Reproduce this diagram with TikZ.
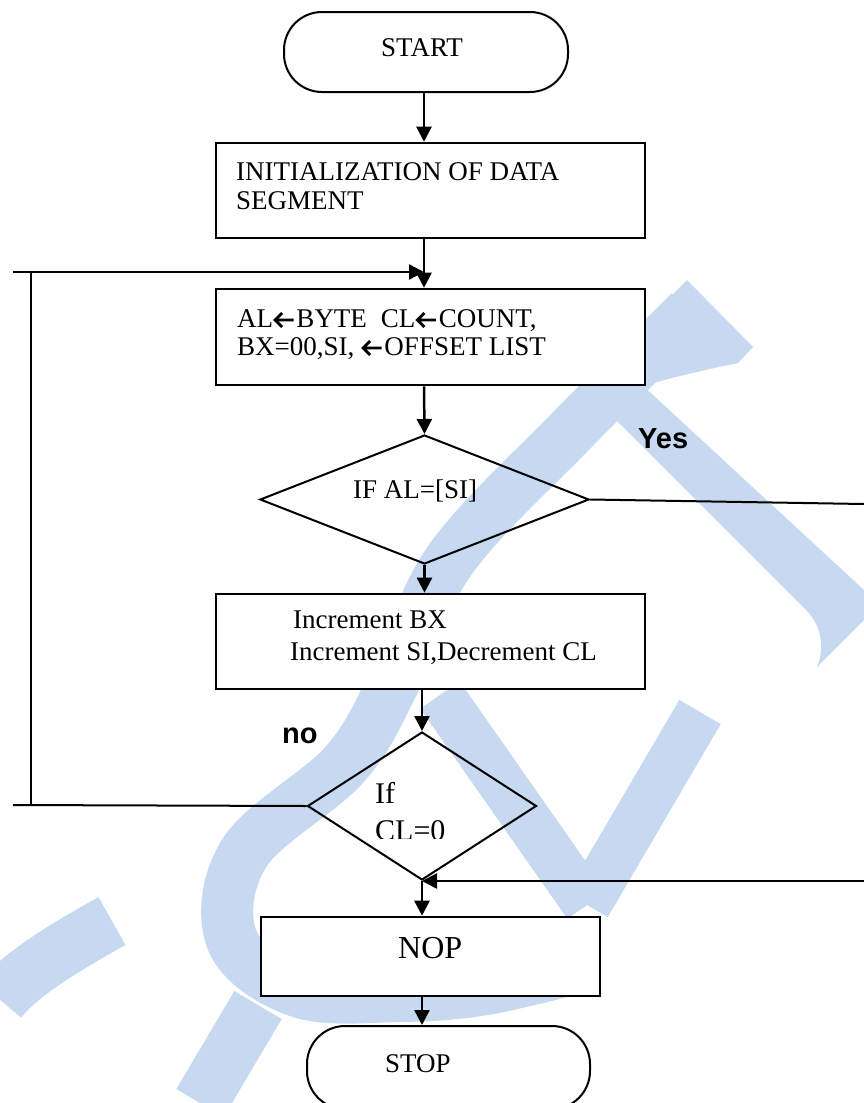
\documentclass[tikz,border=0pt]{standalone}
\usepackage{fontspec}
\setmainfont{Liberation Serif}
\newfontfamily\labelfont{Liberation Sans}
\usetikzlibrary{arrows.meta,shapes.geometric}
\definecolor{wmark}{RGB}{198,217,240}
% bold left arrow used in the register assignments
\newcommand{\leftarr}{\kern0.5pt\tikz[baseline=0pt,x=1pt,y=1pt,line width=2.8pt,line cap=butt]
  \draw (21,7)--(2.5,7) (9.5,0)--(2.5,7)--(9.5,14);\kern1.5pt}
\begin{document}
\begin{tikzpicture}[x=1pt,y=-1pt,
  flowline/.style={line width=2pt},
  flowarrow/.style={line width=2.5pt,-{Triangle[width=15pt,length=15pt]}},
  procbox/.style={draw,fill=white,line width=2.6pt,rectangle,inner sep=0pt},
  terminal/.style={draw,fill=white,line width=2pt,rectangle,rounded corners=38pt,inner sep=0pt},
  decision/.style={draw,line width=2pt,diamond,inner sep=0pt},
  txt/.style={anchor=base west,inner sep=0pt,font=\fontsize{27}{27}\selectfont},
  answer/.style={anchor=base west,inner sep=0pt,font=\labelfont\bfseries\fontsize{29}{29}\selectfont},
  band/.style={draw=wmark,line width=50pt,line cap=butt,line join=round}
]
\useasboundingbox (0,0) rectangle (864,1103);

% background watermark strokes
\fill[wmark] (687,280) -- (753,347) -- (738,363)
  .. controls (680,375) and (620,390) .. (600,403) -- (507,460) -- cycle;
\draw[band,line width=52pt] plot[smooth,tension=0.6] coordinates
  {(690,312) (572,430) (450,560) (395,680) (345,764) (245,852) (232,940)
   (300,992) (400,996) (480,990) (560,972)};
\fill[wmark] (640,383) -- (864,590) -- (864,620) -- (817,667)
  .. controls (826,645) and (820,622) .. (803,607) -- (598,402) -- cycle;
\draw[band,line width=48pt] (440,695) -- (587,905);
\draw[band,line width=48pt] (700,712) -- (587,905);
\draw[band,line width=55pt] (112,921) .. controls (60,950) and (20,975) .. (0,1000);
\draw[band,line width=55pt] (258,1005) -- (200,1103);

% shapes
\node[terminal,minimum width=284pt,minimum height=80pt] (start) at (426,52) {};
\node[procbox,minimum width=429pt,minimum height=95pt] (init) at (430.5,190.5) {};
\node[procbox,minimum width=429pt,minimum height=96pt] (calc) at (430.5,337) {};
\node[decision,minimum width=329pt,minimum height=129pt] (d1) at (424.5,499.5) {};
\node[procbox,minimum width=429pt,minimum height=95pt] (inc) at (430.5,641.5) {};
\node[decision,minimum width=229pt,minimum height=148pt] (d2) at (422,806) {};
\node[procbox,minimum width=339pt,minimum height=79pt] (nop) at (430.5,956.5) {};
\node[terminal,minimum width=283pt,minimum height=83pt] (stop) at (448.5,1067.5) {};

% texts
\node[txt] (tstart) at (381,56) {START};
\node[txt] (tinit1) at (236,180) {INITIALIZATION OF DATA};
\node[txt] (tinit2) at (236,209) {SEGMENT};
\node[txt] (tcalc1) at (237,327) {AL\leftarr BYTE\hspace{14pt}CL\leftarr COUNT,};
\node[txt] (tcalc2) at (237,355) {BX=00,SI, \leftarr OFFSET LIST};
\node[txt] (td1) at (353,498) {IF AL=[SI]};
\node[txt] (tinc1) at (293,628) {Increment BX};
\node[txt] (tinc2) at (290,660) {Increment SI,Decrement CL};
\begin{scope}
  \clip (360,770) rectangle (470,838);
  \node[txt,font=\fontsize{30}{30}\selectfont] (td2a) at (375,803) {If};
  \node[txt,font=\fontsize{30}{30}\selectfont] (td2b) at (375,840) {CL=0};
\end{scope}
\node[txt,font=\fontsize{32}{32}\selectfont] (tnop) at (398,958) {NOP};
\node[txt] (tstop) at (385,1072) {STOP};
\node[answer] (yes) at (638,448) {Yes};
\node[answer] (no) at (282,743) {no};

% connector end points
\coordinate (ax) at (424,0);
\coordinate (loopEnd) at (13,805);
\coordinate (railBot) at (31,805);
\coordinate (railTop) at (31,272);
\coordinate (loopStart) at (13,272);
\coordinate (yesEnd) at (864,504);
\coordinate (retStart) at (864,881);

% main flow
\draw[flowarrow] (start.south -| ax) -- (init.north -| ax);
\draw[flowarrow] (init.south -| ax) -- (calc.north -| ax);
\draw[flowarrow] (calc.south -| ax) -- (d1.north);
\draw[flowarrow] (d1.south) -- (inc.north -| d1.south);
\draw[flowarrow] (inc.south -| d2.north) -- (d2.north);
\draw[flowarrow] (d2.south) -- (nop.north -| d2.south);
\draw[flowarrow] (nop.south -| d2.south) -- (stop.north -| d2.south);

% loop back on "no"
\draw[flowline] (d2.west) -- (loopEnd);
\draw[flowline] (railBot) -- (railTop);
\draw[flowarrow] (loopStart) -- (loopStart -| ax);

% exit on "Yes"
\draw[flowline] (d1.east) -- (yesEnd);
\draw[flowarrow] (retStart) -- (d2.south);
\end{tikzpicture}
\end{document}
